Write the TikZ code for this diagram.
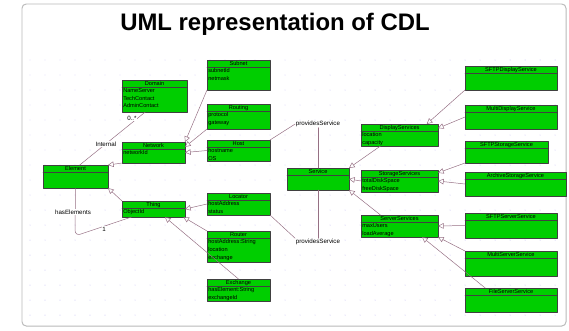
\documentclass[tikz,border=0pt]{standalone}
\usepackage{fontspec}
\setmainfont{Liberation Sans}
\usetikzlibrary{fit,arrows.meta}
\definecolor{umlgreen}{RGB}{0,206,0}
\definecolor{linkcol}{RGB}{150,112,132}
\definecolor{dotcol}{RGB}{178,168,238}
% name, x1, y1, x2, y2, title, attributes
\newcommand{\umlclass}[7]{%
	\node[classbox, fit={(#2,#3) (#4,#5)}] (#1) {};
	\node[classtitle] at ({(#2+#4)/2},#3) {#6};
	\draw[classline] (#2,{#3+7}) -- (#4,{#3+7});
	\node[classattr] at (#2,{#3+7}) {#7};}
\begin{document}
\begin{tikzpicture}[x=0.025cm, y=-0.025cm, font=\fontsize{4}{5.6}\selectfont, line join=round, line cap=round,
	classbox/.style={draw=black!75, fill=umlgreen, line width=0.3pt, inner sep=0pt, outer sep=0pt},
	classtitle/.style={anchor=north, inner sep=0.7pt},
	classline/.style={draw=black!75, line width=0.3pt},
	classattr/.style={anchor=north west, align=left, inner sep=0.7pt},
	link/.style={draw=linkcol, line width=0.35pt},
	isa/.style={link, -{Triangle[open, length=4pt, width=4pt]}},
	role/.style={fill=white, inner sep=0.4pt, font=\fontsize{4.4}{5}\selectfont}]
	\useasboundingbox (0,0) rectangle (569,330);
	\draw[gray!55, line width=0.7pt, rounded corners=3pt] (22,4) rectangle (566,326);
	\node[font=\fontsize{17}{20}\selectfont\bfseries] (title) at (275,24) {UML representation of CDL};
	\foreach \x in {30,45,...,555}{
		\foreach \y in {60,75,...,315}{
			\fill[dotcol] (\x,\y) circle(0.35pt);}}
	% classes
	\umlclass{domain}{122}{80}{187}{112}{Domain}{NameServer\\TechContact\\AdminContact}
	\umlclass{element}{43}{165}{108}{188}{Element}{}
	\umlclass{network}{122}{142}{185}{163}{Network}{networkId}
	\umlclass{thing}{122}{201}{185}{217}{Thing}{ObjectId}
	\umlclass{subnet}{207}{60}{270}{90}{Subnet}{subnetId\\netmask}
	\umlclass{routing}{207}{104}{270}{129}{Routing}{protocol\\gateway}
	\umlclass{host}{207}{140}{270}{161}{Host}{hostname\\OS}
	\umlclass{locator}{207}{193}{270}{215}{Locator}{hostAddress\\status}
	\umlclass{router}{207}{231}{270}{262}{Router}{hostAddress:String\\location\\exchange}
	\umlclass{exchange}{207}{279}{270}{301}{Exchange}{hasElement:String\\exchangeId}
	\umlclass{service}{287}{168}{349}{190}{Service}{}
	\umlclass{display}{361}{124}{438}{146}{DisplayServices}{location\\capacity}
	\umlclass{storage}{361}{170}{438}{192}{StorageServices}{totalDiskSpace\\freeDiskSpace}
	\umlclass{server}{361}{215}{438}{237}{ServerServices}{maxUsers\\loadAverage}
	\umlclass{sftpdisp}{465}{66}{557}{90}{SFTPDisplayService}{}
	\umlclass{multidisp}{465}{105}{557}{129}{MultiDisplayService}{}
	\umlclass{sftpstor}{465}{141}{548}{163}{SFTPStorageService}{}
	\umlclass{archstor}{465}{172}{566}{196}{ArchiveStorageService}{}
	\umlclass{sftpserv}{465}{213}{557}{238}{SFTPServerService}{}
	\umlclass{multiserv}{465}{251}{557}{276}{MultiServerService}{}
	\umlclass{fileserv}{465}{288}{557}{312}{FileServerService}{}
	% links
	\draw[link] (element.70) -- (domain.-120) node[role, pos=0.4]{Internal} node[role, pos=0.88, left]{0..*};
	\draw[link, rounded corners=4pt] (element.south) -- (75,236) -- (thing.-160);
	\node[role] (haselem) at (73,212) {hasElements};
	\node[role] (one) at (104,229) {1};
	\draw[isa] (network.south west) -- (element.north east);
	\draw[isa] (thing.north west) -- (element.south east);
	\draw[isa] (subnet.south west) -- (network.north east);
	\draw[isa] (routing.south west) -- (network.10);
	\draw[isa] (host.west) -- (network.east);
	\draw[isa] (locator.west) -- (thing.east);
	\draw[isa] (router.north west) -- (thing.-15);
	\draw[isa] (exchange.north) -- (thing.-35);
	\node[role] (provtop) at (318,124) {providesService};
	\node[role] (provbot) at (318,242) {providesService};
	\draw[link] (host.north east) -- (provtop.west);
	\draw[link] (provtop.south) -- (service.north);
	\draw[link] (locator.south east) -- (provbot.north west);
	\draw[link] (service.south) -- (provbot.north);
	\draw[isa] (display.-150) -- (service.north east);
	\draw[isa] (storage.west) -- (service.east);
	\draw[isa] (server.150) -- (service.south east);
	\draw[isa] (sftpdisp.south west) -- (display.22);
	\draw[isa] (multidisp.west) -- (display.10);
	\draw[isa] (sftpstor.south west) -- (storage.12);
	\draw[isa] (archstor.west) -- (storage.east);
	\draw[isa] (sftpserv.west) -- (server.east);
	\draw[isa] (multiserv.north west) -- (server.south east);
	\draw[isa] (fileserv.155) -- (server.-26);
\end{tikzpicture}
\end{document}
